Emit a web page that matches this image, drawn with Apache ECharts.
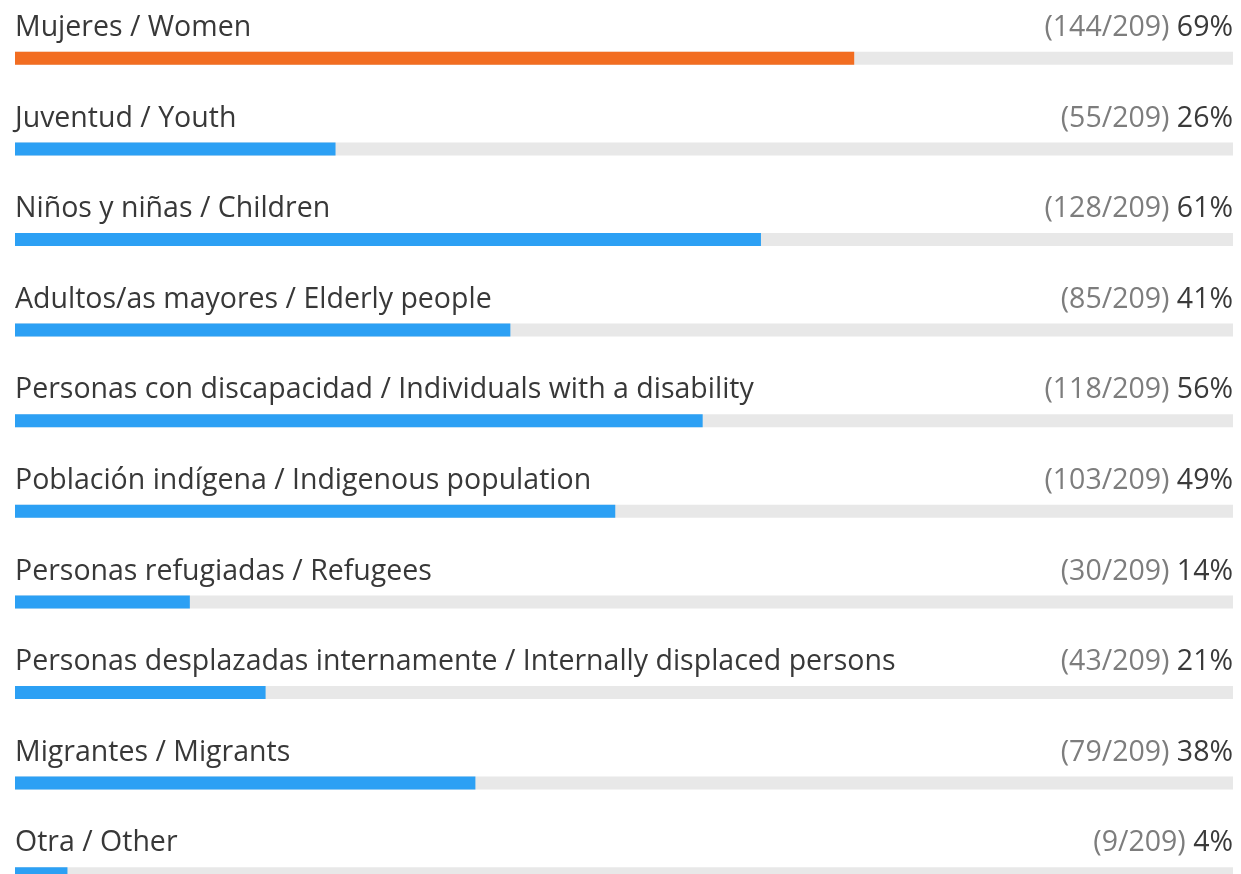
<!DOCTYPE html>
<html><head><meta charset="utf-8">
<script src="https://cdn.jsdelivr.net/npm/echarts@6/dist/echarts.min.js"></script>
<style>html,body{margin:0;padding:0;background:#fff;}#c{width:1241px;height:874px;}</style>
</head><body><div id="c"></div>
<script>
const categories = [
  "Mujeres / Women",
  "Juventud / Youth",
  "Niños y niñas / Children",
  "Adultos/as mayores / Elderly people",
  "Personas con discapacidad / Individuals with a disability",
  "Población indígena / Indigenous population",
  "Personas refugiadas / Refugees",
  "Personas desplazadas internamente / Internally displaced persons",
  "Migrantes / Migrants",
  "Otra / Other"
];
const counts = [144, 55, 128, 85, 118, 103, 30, 43, 79, 9];
const percents = [69, 26, 61, 41, 56, 49, 14, 21, 38, 4];
const total = 209;
const barColors = ["#f26d21", "#2ca0f4", "#2ca0f4", "#2ca0f4", "#2ca0f4", "#2ca0f4", "#2ca0f4", "#2ca0f4", "#2ca0f4", "#2ca0f4"];

const FONT = "Open Sans";
const FS = 28.5;
const chart = echarts.init(document.getElementById('c'), null, {renderer: 'canvas'});
chart.setOption({
  animation: false,
  grid: {left: 15, width: 1218, top: 13, height: 906, containLabel: false, outerBoundsMode: 'none'},
  xAxis: {type: 'value', min: 0, max: total, show: false},
  yAxis: {type: 'category', data: categories, inverse: true, show: false},
  series: [
    {
      type: 'bar', barWidth: 13, silent: true,
      data: categories.map(() => total),
      itemStyle: {color: '#e8e8e8'},
      label: {
        show: true, position: ['100%', -24], align: 'right', verticalAlign: 'middle',
        formatter: p => '{a|(' + counts[p.dataIndex] + '/' + total + ')}{b| ' + percents[p.dataIndex] + '%}',
        rich: {
          a: {color: '#7d7d7d', fontFamily: FONT, fontSize: FS},
          b: {color: '#3a3a3a', fontFamily: FONT, fontSize: FS}
        }
      }
    },
    {
      type: 'bar', barWidth: 13, barGap: '-100%', silent: true,
      data: counts.map((v, i) => ({value: v, itemStyle: {color: barColors[i]}})),
      label: {
        show: true, position: [0, -24], align: 'left', verticalAlign: 'middle',
        formatter: p => categories[p.dataIndex],
        color: '#383838', fontFamily: FONT, fontSize: FS
      }
    }
  ]
});
</script></body></html>
